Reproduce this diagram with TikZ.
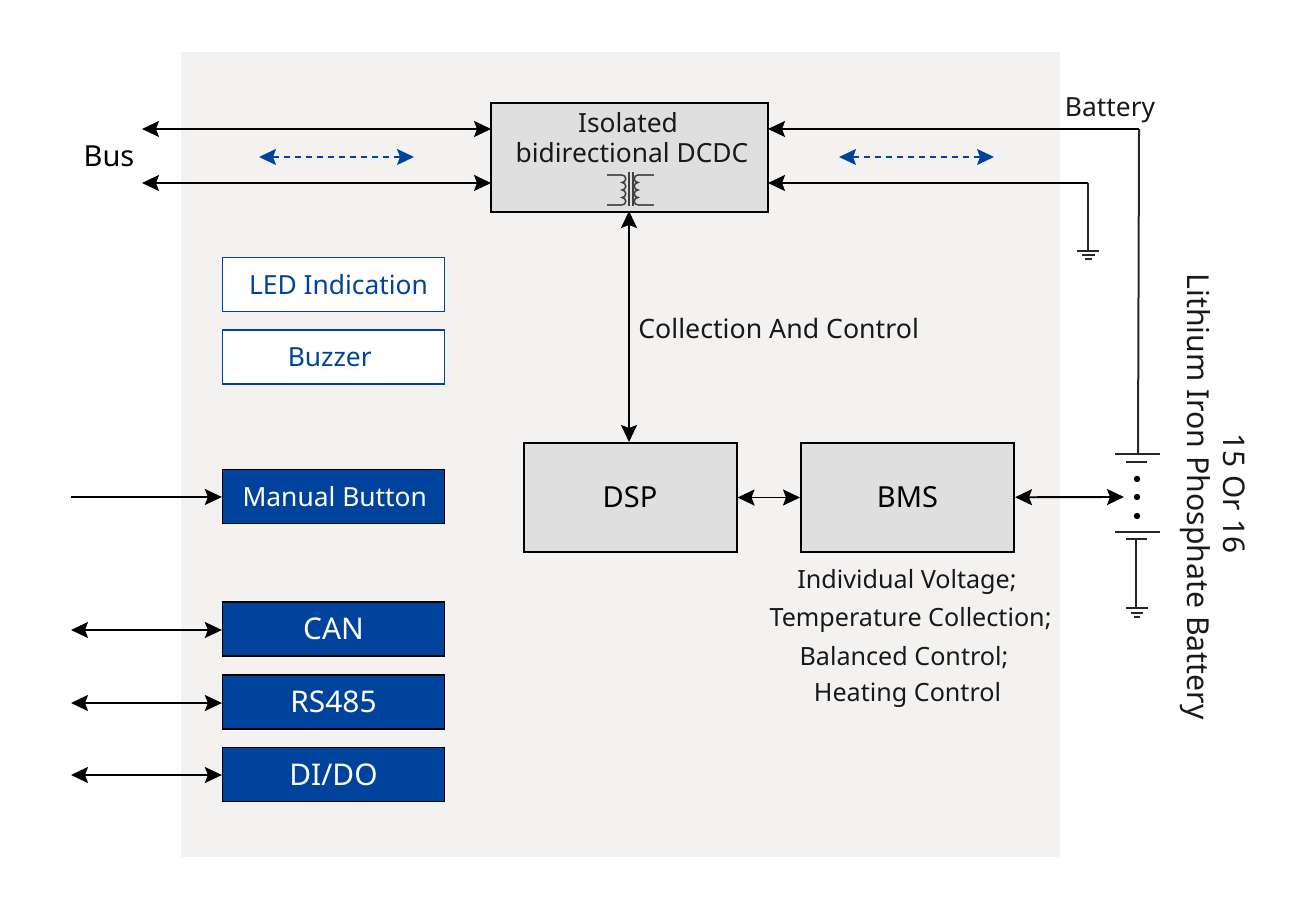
\documentclass[tikz,border=0pt]{standalone}
\usepackage{fontspec}
\setmainfont{Noto Sans}
\usetikzlibrary{arrows.meta, positioning}
\definecolor{panelgray}{HTML}{F3F2F1}
\definecolor{boxgray}{HTML}{DFDFDF}
\definecolor{ifblue}{HTML}{00439C}
\tikzset{
  graybox/.style={draw=black, line width=0.4mm, fill=boxgray, text=black, inner sep=0pt, align=center},
  bluebox/.style={draw=black, line width=0.25mm, fill=ifblue, text=white, font=\fontsize{15}{18}\selectfont, minimum width=4.44cm, minimum height=1.08cm, inner sep=0pt},
  whitebox/.style={draw=ifblue, line width=0.3mm, fill=white, text=ifblue, font=\fontsize{15}{18}\selectfont, minimum width=4.44cm, minimum height=1.08cm, inner sep=0pt},
  biarrow/.style={line width=0.38mm, {Stealth[length=3.4mm,width=3.2mm,inset=0.6mm]}-{Stealth[length=3.4mm,width=3.2mm,inset=0.6mm]}},
  onearrow/.style={line width=0.38mm, -{Stealth[length=3.4mm,width=3.2mm,inset=0.6mm]}},
  flowarrow/.style={ifblue, line width=0.35mm, dash pattern=on 1.3mm off 0.9mm, {Stealth[length=3.4mm,width=3.2mm,inset=0.6mm]}-{Stealth[length=3.4mm,width=3.2mm,inset=0.6mm]}},
  wire/.style={line width=0.4mm, black!85},
  labeltext/.style={font=\fontsize{14.3}{18}\selectfont, text=black!90, inner sep=0pt}
}
\begin{document}
\begin{tikzpicture}[x=0.2mm,y=-0.2mm]
\useasboundingbox (0,0) rectangle (1298,914);
\fill[panelgray] (181,52) rectangle (1060,857);

% main blocks
\node[graybox, minimum width=5.54cm, minimum height=2.18cm, anchor=north] (dcdc) at (629.5,102) {};
\node[labeltext, font=\fontsize{15}{19}\selectfont] (dcdc_l1) at (628,123) {Isolated};
\node[labeltext, font=\fontsize{15}{19}\selectfont] (dcdc_l2) at (632,153) {bidirectional DCDC};
\node[graybox, minimum width=4.26cm, minimum height=2.18cm, font=\fontsize{16.5}{20}\selectfont] (dsp) at (630,497.5) {DSP};
\node[graybox, minimum width=4.26cm, minimum height=2.18cm, font=\fontsize{16.5}{20}\selectfont] (bms) at (907.5,497.5) {BMS};

% transformer
\draw[line width=0.35mm, black!65] (607,175) -- (622,175) (607,205) -- (622,205);
\draw[line width=0.35mm, black!65] (654,175) -- (638,175) (654,205) -- (638,205);
\draw[line width=0.3mm, black!75] (622,175) arc (-90:90:3.75) arc (-90:90:3.75) arc (-90:90:3.75) arc (-90:90:3.75);
\draw[line width=0.3mm, black!75] (638,175) arc (-90:-270:3.75) arc (-90:-270:3.75) arc (-90:-270:3.75) arc (-90:-270:3.75);
\draw[line width=0.35mm, black!75] (629,172) -- (629,206) (633,172) -- (633,206);

% side boxes
\node[whitebox] (led) at (333.5,284.5) {\hspace*{0.2cm}LED Indication};
\node[whitebox] (buzzer) at (333.5,357) {\hspace*{-0.15cm}Buzzer};
\node[bluebox] (button) at (333.5,496.5) {\hspace*{0.05cm}Manual Button};
\node[bluebox, font=\fontsize{17}{20}\selectfont] (can) at (333.5,629) {\raisebox{-0.2mm}{CAN}};
\node[bluebox, font=\fontsize{17}{20}\selectfont] (rs485) at (333.5,702) {\raisebox{-0.2mm}{RS485}};
\node[bluebox, font=\fontsize{17}{20}\selectfont] (dido) at (333.5,774.5) {DI/DO};

% free ends
\coordinate (bus_a) at (142,129);
\coordinate (bus_b) at (142,183);
\coordinate (dcdc_wa) at (491,129);
\coordinate (dcdc_wb) at (491,183);
\coordinate (dcdc_ea) at (768,129);
\coordinate (dcdc_eb) at (768,183);
\coordinate (bat_corner) at (1139,129);
\coordinate (bat_top) at (1138,455);
\coordinate (gnd_corner) at (1088,183);
\coordinate (gnd_top) at (1088,251);
\coordinate (bat_in) at (1124,497);
\coordinate (button_in) at (71,497);
\coordinate (can_in) at (71,630);
\coordinate (rs485_in) at (71,703);
\coordinate (dido_in) at (71,775);
\coordinate (dcdc_s) at (629,211);
\coordinate (dsp_n) at (629,442);
\coordinate (bat_low) at (1136,539);
\coordinate (gnd_low) at (1136,608);

% connectors
\draw[biarrow] (bus_a) -- (dcdc_wa);
\draw[biarrow] (bus_b) -- (dcdc_wb);
\draw[onearrow] (bat_corner) -- (dcdc_ea);
\draw[onearrow] (gnd_corner) -- (dcdc_eb);
\draw[wire] (bat_corner) -- (bat_top);
\draw[wire] (gnd_corner) -- (gnd_top);
\draw[biarrow] (dcdc_s) -- (dsp_n);
\draw[biarrow] (dsp) -- (bms);
\draw[biarrow] (bms) -- (bat_in);
\draw[onearrow] (button_in) -- (button_in -| button.west);
\draw[biarrow] (can_in) -- (can_in -| can.west);
\draw[biarrow] (rs485_in) -- (rs485_in -| rs485.west);
\draw[biarrow] (dido_in) -- (dido_in -| dido.west);

% current direction
\coordinate (flow_la) at (259,157);
\coordinate (flow_lb) at (414,157);
\coordinate (flow_ra) at (839,157);
\coordinate (flow_rb) at (994,157);
\draw[flowarrow] (flow_la) -- (flow_lb);
\draw[flowarrow] (flow_ra) -- (flow_rb);

% battery and grounds
\draw[wire] (1115,454.5) -- (1160,454.5) (1126,462) -- (1147,462);
\draw[wire, line width=0.55mm] (1115,532) -- (1160,532);
\draw[wire] (1126,539) -- (1147,539);
\draw[wire] (bat_low) -- (gnd_low);
\foreach \doty in {479,497,516}
  \fill[black] (1137,\doty) circle (3.2);
\draw[wire] (1126,608) -- (1148,608) (1131,613) -- (1143,613) (1134,617) -- (1140,617);
\draw[wire] (1077,251) -- (1099,251) (1082,255.5) -- (1095,255.5) (1085,259.5) -- (1092,259.5);

% labels
\node[font=\fontsize{16.5}{18}\selectfont, inner sep=0pt] (bus_l) at (109,156) {Bus};
\node[labeltext, font=\fontsize{15}{18}\selectfont] (battery_l) at (1110,110) {Battery};
\node[labeltext, font=\fontsize{15.2}{18}\selectfont, anchor=west] (collect_l) at (638,328) {Collection And Control};
\node[labeltext] (bms_l1) at (907,581.5) {Individual Voltage;};
\node[labeltext] (bms_l2) at (910.5,619.5) {Temperature Collection;};
\node[labeltext] (bms_l3) at (904,657.5) {Balanced Control;};
\node[labeltext] (bms_l4) at (907.5,694.5) {Heating Control};
\node[labeltext, font=\fontsize{17}{18}\selectfont, rotate=-90] (pack_l1) at (1234,493.5) {15 Or 16};
\node[labeltext, font=\fontsize{17.2}{18}\selectfont, rotate=-90] (pack_l2) at (1195,496.5) {Lithium Iron Phosphate Battery};
\end{tikzpicture}
\end{document}
